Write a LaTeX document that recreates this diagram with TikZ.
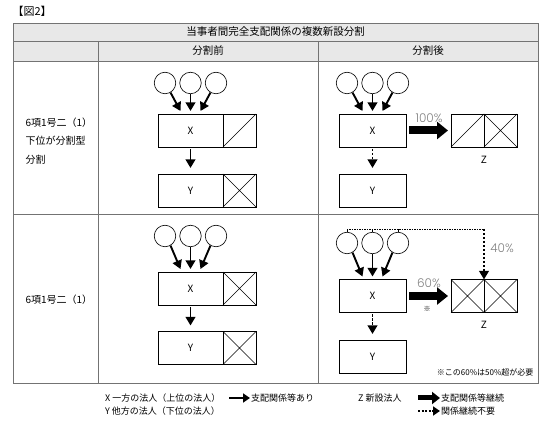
\documentclass[tikz,border=0pt]{standalone}
\usepackage{fontspec}
\setmainfont{Noto Sans CJK JP}
\newfontfamily\pctfont{Poppins Light}
\usetikzlibrary{arrows.meta,positioning}
\newcommand\halfsq[1]{\draw[line width=0.6pt] (#1.south west) -- (#1.north east);}
\newcommand\crosssq[1]{\draw[line width=0.6pt] (#1.south west) -- (#1.north east)
    (#1.north west) -- (#1.south east);}
\begin{document}
\begin{tikzpicture}[x=1pt, y=-1pt,
    grid/.style={draw=black!55, line width=0.7pt},
    corp/.style={circle, draw, line width=0.6pt, minimum size=21.5pt, inner sep=0pt},
    ent/.style={draw, line width=0.6pt, minimum width=65pt, minimum height=33pt,
        inner sep=0pt, outer sep=0pt, font=\fontsize{10}{10}\selectfont},
    sq/.style={draw, line width=0.6pt, minimum width=33pt, minimum height=33pt,
        inner sep=0pt, outer sep=0pt},
    rel/.style={line width=1.9pt, -{Triangle[length=8.5pt,width=9.5pt]}},
    down/.style={rel, shorten <=2pt, shorten >=6pt},
    nodown/.style={down, dash pattern=on 2.5pt off 1.5pt},
    norel/.style={rel, dash pattern=on 2.5pt off 1.5pt},
    cont/.style={line width=8pt, -{Triangle[length=11pt,width=17pt]}},
    fine/.style={line width=0.6pt, dash pattern=on 1.5pt off 1pt},
    pct/.style={text=black!50, font=\pctfont\fontsize{12}{12}\selectfont},
    lbl/.style={font=\fontsize{9}{9}\selectfont, inner sep=1pt}]
    \useasboundingbox (0,0) rectangle (550,425);
    % table
    \fill[gray!18] (13,23) rectangle (538,61);
    \draw[grid] (13,23) rectangle (538,383);
    \draw[grid] (13,41) -- (538,41) (13,61) -- (538,61) (13,214) -- (538,214);
    \draw[grid] (98,41) -- (98,383) (318,41) -- (318,383);
    \node[anchor=west, font=\fontsize{11}{11}\selectfont] (fig) at (9,11) {【図2】};
    \node[font=\fontsize{10.5}{10.5}\selectfont] (title) at (275.5,32) {当事者間完全支配関係の複数新設分割};
    \node[font=\fontsize{10.5}{10.5}\selectfont] (pre) at (208,51) {分割前};
    \node[font=\fontsize{10.5}{10.5}\selectfont] (post) at (428,51) {分割後};
    \node[anchor=west, align=left, font=\fontsize{10}{18.5}\selectfont] (case1) at (22,141)
        {6項1号二（1）\\下位が分割型\\分割};
    \node[anchor=west, font=\fontsize{10}{10}\selectfont] (case2) at (22,300) {6項1号二（1）};

    % row 1, before
    \node[corp] (a1) at (165,83) {};
    \node[corp] (a2) at (190.5,83) {};
    \node[corp] (a3) at (216,83) {};
    \node[ent] (ax) at (190.5,130.5) {X};
    \node[sq, right=0pt of ax] (axs) {};
    \node[ent] (ay) at (190.5,190.5) {Y};
    \node[sq, right=0pt of ay] (ays) {};
    \halfsq{axs} \crosssq{ays}
    \draw[rel] (a1.-60) -- ([xshift=-10pt, yshift=3pt]ax.north);
    \draw[rel] (a2.south) -- ([yshift=3pt]ax.north);
    \draw[rel] (a3.-120) -- ([xshift=10pt, yshift=3pt]ax.north);
    \draw[down] (ax) -- (ay);

    % row 1, after
    \node[corp] (b1) at (347,83) {};
    \node[corp] (b2) at (372.5,83) {};
    \node[corp] (b3) at (398,83) {};
    \node[ent, minimum width=67pt] (bx) at (372.5,130.5) {X};
    \node[ent, minimum width=67pt] (by) at (372.5,190.5) {Y};
    \node[sq] (bzl) at (467.5,130.5) {};
    \node[sq, right=0pt of bzl] (bzr) {};
    \halfsq{bzl} \crosssq{bzr}
    \node[font=\fontsize{10}{10}\selectfont] (bz) at (484,160) {Z};
    \draw[rel] (b1.-60) -- ([xshift=-10pt, yshift=3pt]bx.north);
    \draw[rel] (b2.south) -- ([yshift=3pt]bx.north);
    \draw[rel] (b3.-120) -- ([xshift=10pt, yshift=3pt]bx.north);
    \draw[nodown] (bx) -- (by);
    \draw[cont] ([xshift=3pt]bx.east) -- ([xshift=-3pt]bzl.west);
    \node[pct] (p100) at (429,118) {100\%};

    % row 2, before
    \node[corp] (c1) at (165,236) {};
    \node[corp] (c2) at (190.5,236) {};
    \node[corp] (c3) at (216,236) {};
    \node[ent] (cx) at (190.5,288.5) {X};
    \node[sq, right=0pt of cx] (cxs) {};
    \node[ent] (cy) at (190.5,348) {Y};
    \node[sq, right=0pt of cy] (cys) {};
    \crosssq{cxs} \crosssq{cys}
    \draw[rel] (c1.-60) -- ([xshift=-10pt, yshift=3pt]cx.north);
    \draw[rel] (c2.south) -- ([yshift=3pt]cx.north);
    \draw[rel] (c3.-120) -- ([xshift=10pt, yshift=3pt]cx.north);
    \draw[down] (cx) -- (cy);

    % row 2, after
    \node[corp] (d1) at (347,243) {};
    \node[corp] (d2) at (372.5,243) {};
    \node[corp] (d3) at (398,243) {};
    \node[ent, minimum width=67pt] (dx) at (372.5,296) {X};
    \node[ent, minimum width=67pt] (dy) at (372.5,356.5) {Y};
    \node[sq] (dzl) at (467.5,296) {};
    \node[sq, right=0pt of dzl] (dzr) {};
    \crosssq{dzl} \crosssq{dzr}
    \node[font=\fontsize{10}{10}\selectfont] (dz) at (484,325) {Z};
    \draw[rel] (d1.-60) -- ([xshift=-10pt, yshift=3pt]dx.north);
    \draw[rel] (d2.south) -- ([yshift=3pt]dx.north);
    \draw[rel] (d3.-120) -- ([xshift=10pt, yshift=3pt]dx.north);
    \draw[nodown] (dx) -- (dy);
    \draw[cont] ([xshift=3pt]dx.east) -- ([xshift=-3pt]dzl.west);
    \coordinate (top) at (484,229);
    \draw[fine] (d1.north) |- (top);
    \draw[fine] (d2.north) -- (d2.north |- top);
    \draw[fine] (d3.north) -- (d3.north |- top);
    \draw[norel] (top) -- (dzl.north east);
    \node[pct] (p40) at (502,248) {40\%};
    \node[pct] (p60) at (429,283) {60\%};
    \node[font=\fontsize{7}{7}\selectfont] (mark) at (427,309) {※};
    \node[anchor=east, font=\fontsize{8}{8}\selectfont] (note) at (537,372) {※この60\%は50\%超が必要};

    % legend
    \node[lbl, anchor=west] (lx) at (104,398) {X~一方の法人（上位の法人）};
    \node[lbl, anchor=west] (ly) at (104,411) {Y~他方の法人（下位の法人）};
    \node[lbl, anchor=west] (lz) at (357,398) {Z~新設法人};
    \coordinate (la) at (229,398);
    \node[lbl, anchor=west] (lat) at (250,398) {支配関係等あり};
    \draw[line width=1.8pt, -{Triangle[length=7pt,width=9pt]}] (la) -- (lat.west);
    \coordinate (lb) at (418,398);
    \node[lbl, anchor=west] (lbt) at (440,398) {支配関係等継続};
    \draw[line width=5pt, -{Triangle[length=8pt,width=12pt]}] (lb) -- (lbt.west);
    \coordinate (lc) at (418,411);
    \node[lbl, anchor=west] (lct) at (440,411) {関係継続不要};
    \draw[line width=1.8pt, dash pattern=on 2pt off 1.5pt, -{Triangle[length=7pt,width=9pt]}] (lc) -- (lct.west);
\end{tikzpicture}
\end{document}
